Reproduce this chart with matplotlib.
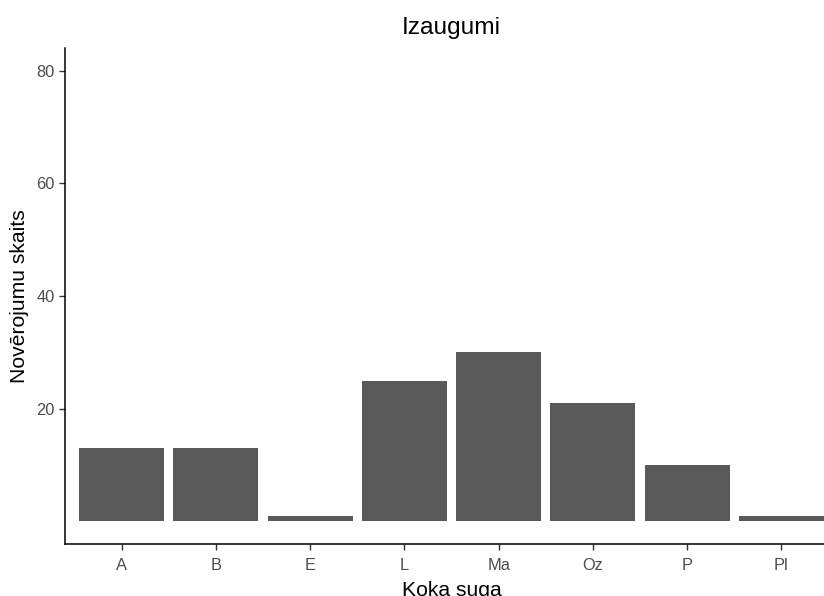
import matplotlib
matplotlib.use("Agg")
import matplotlib.pyplot as plt

plt.rcParams['font.family'] = ['Liberation Sans', 'DejaVu Sans']

# Observation counts per tree species
species = ["A", "B", "E", "L", "Ma", "Oz", "P", "Pl"]
counts = [13, 13, 1, 25, 30, 21, 10, 1]
y_ticks = [20, 40, 60, 80]

W, H = 824, 596
fig = plt.figure(figsize=(W / 100, H / 100), dpi=100)
left, right, top, bottom = 65, 838, 48, 544
ax = fig.add_axes([left / W, 1 - bottom / H, (right - left) / W, (bottom - top) / H])

x = list(range(len(species)))
ax.bar(x, counts, width=0.9, color="#595959", edgecolor="none")

ax.set_xlim(-0.6, len(species) - 1 + 0.6)
ax.set_ylim(-4, 84)
ax.set_xticks(x)
ax.set_xticklabels(species)
ax.set_yticks(y_ticks)

for s in ("top", "right"):
    ax.spines[s].set_visible(False)
for s in ("left", "bottom"):
    ax.spines[s].set_color("black")
    ax.spines[s].set_linewidth(1.1)

ax.tick_params(axis="both", length=4.5, width=1.0, color="#333333",
               labelcolor="#4D4D4D", labelsize=11.8)
ax.tick_params(axis="x", pad=5.5)
ax.tick_params(axis="y", pad=3)

ax.set_title("Izaugumi", fontsize=17.6, color="black", pad=10)
ax.set_xlabel("Koka suga", fontsize=15.2, color="black", labelpad=6)
ax.set_ylabel("Novērojumu skaits", fontsize=15.2, color="black", labelpad=5)

fig.savefig("out.png", dpi=100, facecolor="white")
